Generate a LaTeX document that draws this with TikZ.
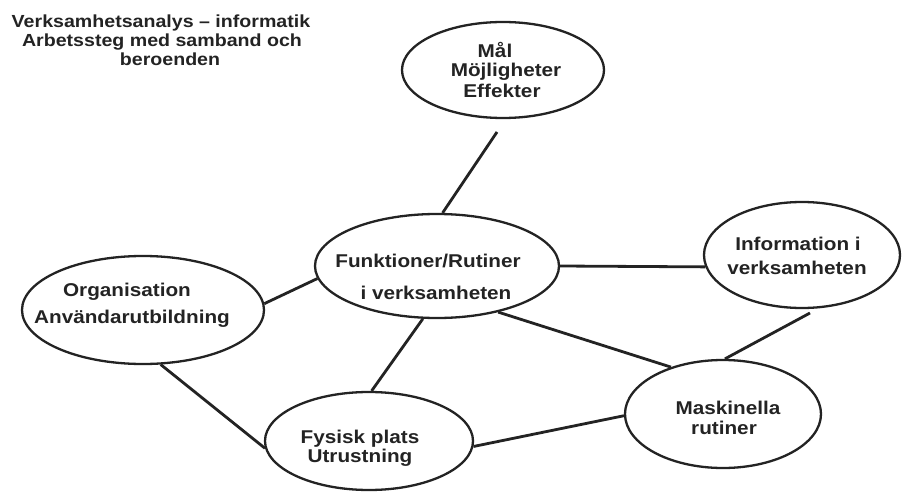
\documentclass[tikz,border=0pt]{standalone}
\usepackage{fontspec}
\setmainfont{Liberation Sans}[FakeStretch=1.12]
\usetikzlibrary{shapes.geometric}
\definecolor{ink}{HTML}{232323}
\tikzset{
  bubble/.style={ellipse, draw=ink, line width=2.3pt, inner sep=0pt, fill=white},
  link/.style={draw=ink, line width=2.8pt},
  lbl/.style={anchor=base, inner sep=0pt, text=ink,
              font=\bfseries\fontsize{18.5}{20}\selectfont},
  ttl/.style={anchor=base, inner sep=0pt, text=ink,
              font=\bfseries\fontsize{17.5}{19}\selectfont}
}
\begin{document}
\begin{tikzpicture}[x=1pt, y=-1pt]
  \useasboundingbox[fill=white] (0,0) rectangle (902,492);

  % title
  \node[ttl] (t1) at (161,28) {Verksamhetsanalys -- informatik};
  \node[ttl] (t2) at (162,47) {Arbetssteg med samband och};
  \node[ttl] (t3) at (170,66) {beroenden};

  % bubbles
  \node[bubble, minimum width=202pt, minimum height=96pt]  (mal)  at (503,70)  {};
  \node[bubble, minimum width=244pt, minimum height=104pt] (funk) at (437,266) {};
  \node[bubble, minimum width=196pt, minimum height=106pt] (info) at (802,255) {};
  \node[bubble, minimum width=242pt, minimum height=108pt] (org)  at (143,310) {};
  \node[bubble, minimum width=208pt, minimum height=98pt]  (fys)  at (369,441) {};
  \node[bubble, minimum width=196pt, minimum height=108pt] (mask) at (723,414) {};

  % free ends of the two links that stop short of their bubble
  \coordinate (malend)  at (497,132);
  \coordinate (infoend) at (810,313);

  % links
  \draw[link] (malend) -- (funk.84);
  \draw[link] (funk.0) -- (info.187);
  \draw[link] (funk.186) -- (org.3);
  \draw[link] (funk.255) -- (fys.87);
  \draw[link] (funk.-37) -- (mask.138);
  \draw[link] (infoend) -- (mask.88);
  \draw[link] (org.-72) -- (fys.184);
  \draw[link] (fys.-3) -- (mask.181);

  % bubble texts
  \node[lbl] (malA) at (495,58) {Mål};
  \node[lbl] (malB) at (506,77) {Möjligheter};
  \node[lbl] (malC) at (502,98) {Effekter};

  \node[lbl] (funkA) at (428,267) {Funktioner/Rutiner};
  \node[lbl] (funkB) at (436,299) {i verksamheten};

  \node[lbl] (infoA) at (798,250) {Information i};
  \node[lbl] (infoB) at (797,274) {verksamheten};

  \node[lbl] (orgA) at (127,296) {Organisation};
  \node[lbl] (orgB) at (132,323) {Användarutbildning};

  \node[lbl] (fysA) at (360,443) {Fysisk plats};
  \node[lbl] (fysB) at (360,462) {Utrustning};

  \node[lbl] (maskA) at (728,414) {Maskinella};
  \node[lbl] (maskB) at (724,434) {rutiner};
\end{tikzpicture}
\end{document}
